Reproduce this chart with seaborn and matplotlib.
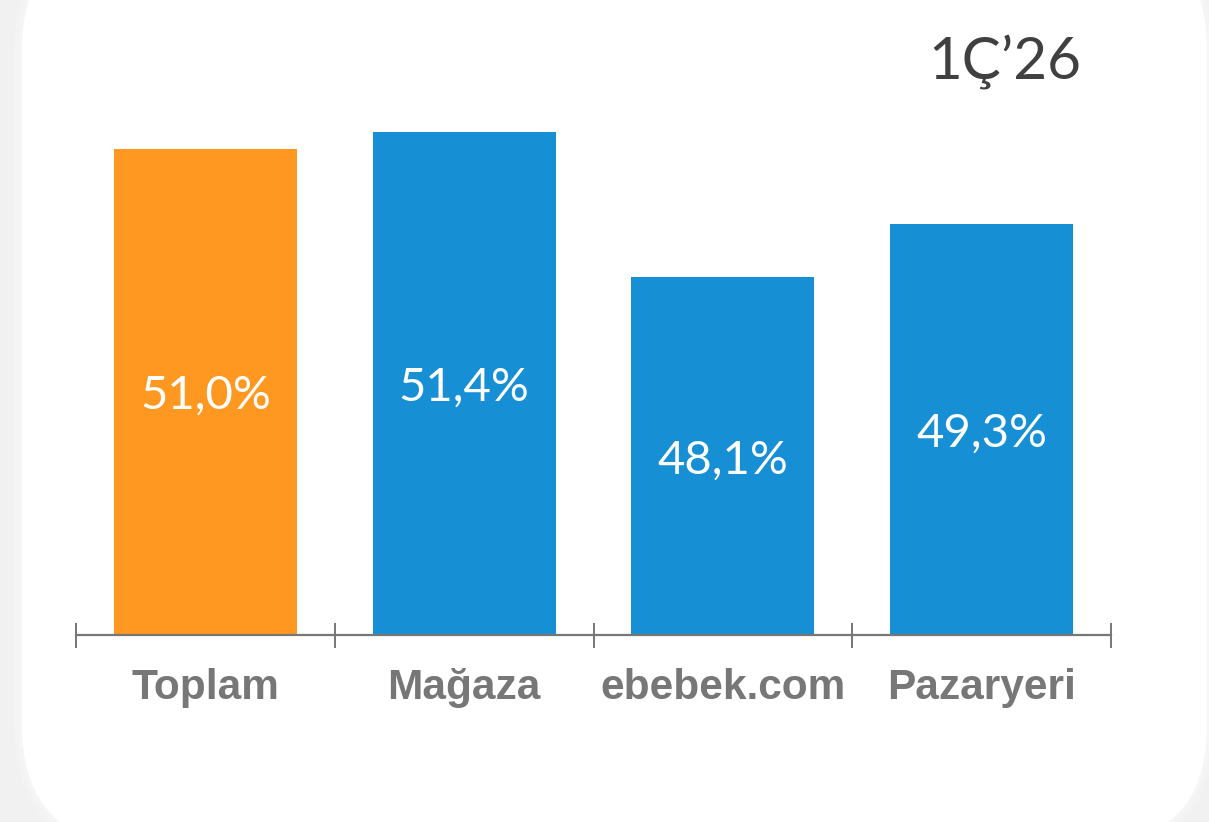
import matplotlib
import seaborn as sns
from matplotlib import pyplot as plt
from matplotlib.patches import FancyBboxPatch
from matplotlib.transforms import IdentityTransform, ScaledTranslation

categories = ["Toplam", "Mağaza", "ebebek.com", "Pazaryeri"]
values = [51.0, 51.4, 48.1, 49.3]
value_labels = ["51,0%", "51,4%", "48,1%", "49,3%"]
bar_colors = ["#FF9820", "#168FD4", "#168FD4", "#168FD4"]
period_label = "1Ç\u201926"

W, H = 1209, 822
sns.set_theme(style="white")
plt.rcParams['font.family'] = ['Liberation Sans', 'DejaVu Sans']

fig = plt.figure(figsize=(W / 100, H / 100), dpi=100)
fig.patch.set_facecolor("#f1f1f1")

# white card with rounded corners (pixel coords, origin bottom-left)
for grow, alpha in [(8, 0.25), (4, 0.35)]:
    fig.patches.append(FancyBboxPatch((22 - grow, -23 - grow), 1185 + 2 * grow, 915 + 2 * grow,
                                      boxstyle="round,pad=0,rounding_size=%d" % (120 + grow),
                                      transform=IdentityTransform(), facecolor="#fafafa",
                                      edgecolor="none", alpha=alpha, zorder=0))
fig.patches.append(FancyBboxPatch((22, -23), 1185, 915,
                                  boxstyle="round,pad=0,rounding_size=120",
                                  transform=IdentityTransform(), facecolor="white",
                                  edgecolor="none", zorder=0))

ax = fig.add_axes([76 / W, 1 - 635 / H, (1111 - 76) / W, (635 - 95) / H])
ax.set_zorder(2)
ax.set_facecolor("none")

sns.barplot(x=categories, y=values, hue=categories, palette=bar_colors,
            width=0.707, legend=False, saturation=1, linewidth=0, ax=ax)

ax.set_xlim(-0.5, len(categories) - 0.5)
ax.set_ylim(40, 40 + 540 / 44.15)

shift = ax.transData + ScaledTranslation(0, -4 / 100, fig.dpi_scale_trans)
for i, (v, lab) in enumerate(zip(values, value_labels)):
    ax.text(i, (40 + v) / 2, lab, ha="center", va="center", color="white",
            fontsize=34, family=["Lato", "DejaVu Sans"], transform=shift)

for s in ["top", "left", "right"]:
    ax.spines[s].set_visible(False)
ax.spines["bottom"].set_color("#777777")
ax.spines["bottom"].set_linewidth(1.6)
ax.set_yticks([])

ax.set_xticks(range(len(categories)))
ax.set_xticklabels(categories, fontsize=30.5, fontweight="bold", color="#777777")
ax.tick_params(axis="x", which="major", length=0, pad=24)
ax.set_xticks([i - 0.5 for i in range(len(categories) + 1)], minor=True)
ax.tick_params(axis="x", which="minor", direction="inout", length=18, width=1.4,
               color="#777777", bottom=True)
ax.set_xlabel("")
ax.set_ylabel("")

fig.text(1005 / W, 1 - 80 / H, period_label, ha="center", va="baseline",
         fontsize=42, color="#404040", family=["Lato", "DejaVu Sans"], zorder=3)

fig.savefig("out.png", dpi=100, facecolor=fig.get_facecolor())
